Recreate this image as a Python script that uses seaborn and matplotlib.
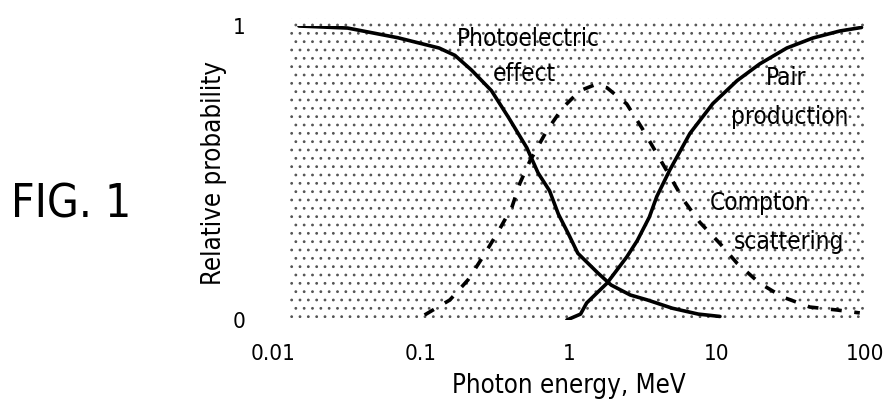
import pandas as pd
import seaborn as sns
import matplotlib.pyplot as plt
from matplotlib.patches import Rectangle

# values (energy in MeV, relative probability 0..1)
photo_e = [0.015, 0.032, 0.07, 0.133, 0.17, 0.22, 0.30, 0.39, 0.52, 0.62, 0.74, 0.85,
           1.0, 1.15, 1.57, 1.93, 2.6, 3.4, 5.0, 7.5, 10.5]
photo_p = [1.0, 0.993, 0.96, 0.925, 0.90, 0.85, 0.78, 0.69, 0.586, 0.50, 0.44, 0.36,
           0.29, 0.227, 0.16, 0.119, 0.085, 0.068, 0.04, 0.02, 0.012]

compton_e = [0.106, 0.157, 0.208, 0.262, 0.331, 0.412, 0.466, 0.545, 0.71, 0.91, 1.19,
             1.5, 1.81, 2.46, 3.11, 3.93, 5.98, 7.68, 10.5, 13.7, 19.5, 27.9, 42.5, 64.7, 92.5]
compton_p = [0.017, 0.068, 0.136, 0.214, 0.298, 0.383, 0.464, 0.54, 0.644, 0.722, 0.78,
             0.80, 0.79, 0.735, 0.654, 0.566, 0.407, 0.332, 0.26, 0.193, 0.125, 0.078, 0.044, 0.034, 0.024]

pair_e = [0.97, 1.2, 1.32, 1.81, 2.46, 2.9, 3.5, 3.93, 4.81, 6.57, 9.4, 13.7, 19.5,
          29.7, 44.5, 67.8, 95]
pair_p = [0.0, 0.02, 0.058, 0.125, 0.214, 0.27, 0.35, 0.42, 0.51, 0.634, 0.736, 0.814,
          0.871, 0.925, 0.959, 0.983, 0.995]

x_ticks = [0.01, 0.1, 1, 10, 100]
x_ticklabels = ["0.01", "0.1", "1", "10", "100"]
y_ticks = [0, 1]
y_ticklabels = ["0", "1"]

df = pd.concat([
    pd.DataFrame({"energy": photo_e, "prob": photo_p, "process": "photo"}),
    pd.DataFrame({"energy": compton_e, "prob": compton_p, "process": "compton"}),
    pd.DataFrame({"energy": pair_e, "prob": pair_p, "process": "pair"}),
])

sns.set_style("white")
plt.rcParams["font.family"] = ["DejaVu Sans"]
plt.rcParams["font.stretch"] = "condensed"
plt.rcParams["text.color"] = "black"
plt.rcParams["axes.labelcolor"] = "black"
plt.rcParams["xtick.color"] = "black"
plt.rcParams["ytick.color"] = "black"
plt.rcParams["hatch.linewidth"] = 0.8

fig = plt.figure(figsize=(8.83, 4.03), dpi=100)
ax = fig.add_axes([0.309, 0.206, 0.6704, 0.7295])

# stippled background
ax.add_patch(Rectangle((0.029, 0.007), 0.971, 1.02, transform=ax.transAxes,
                       fill=False, hatch="..", edgecolor="#555555", linewidth=0,
                       clip_on=False, zorder=0))

sns.lineplot(data=df, x="energy", y="prob", hue="process", style="process",
             palette={"photo": "black", "compton": "black", "pair": "black"},
             dashes={"photo": "", "compton": (3, 3.5), "pair": ""},
             estimator=None, linewidth=2.6, legend=False, ax=ax, zorder=3)

ax.set_xscale("log")
ax.set_xlim(0.01, 100)
ax.set_ylim(0, 1)
ax.set_xticks(x_ticks)
ax.set_xticklabels(x_ticklabels)
ax.set_yticks(y_ticks)
ax.set_yticklabels(y_ticklabels)
ax.minorticks_off()
ax.tick_params(length=0, labelsize=16)
ax.tick_params(axis="x", pad=17)
ax.tick_params(axis="y", pad=20)
for s in ax.spines.values():
    s.set_visible(False)
ax.set_facecolor("none")

ax.set_xlabel("Photon energy, MeV", fontsize=18.5, labelpad=7)
ax.set_ylabel("Relative probability", fontsize=18.5, labelpad=4)

txt = dict(fontsize=17.5, ha="center", va="center", zorder=4)
ax.text(0.537, 0.956, "Photoelectric", **txt)
ax.text(0.50, 0.837, "effect", **txt)
ax.text(29.6, 0.823, "Pair", **txt)
ax.text(31.3, 0.690, "production", **txt)
ax.text(19.5, 0.398, "Compton", **txt)
ax.text(30.6, 0.265, "scattering", **txt)

fig.text(71 / 883, 1 - 205 / 403, "FIG. 1", fontsize=33, ha="center", va="center")

fig.savefig("out.png", dpi=100)
